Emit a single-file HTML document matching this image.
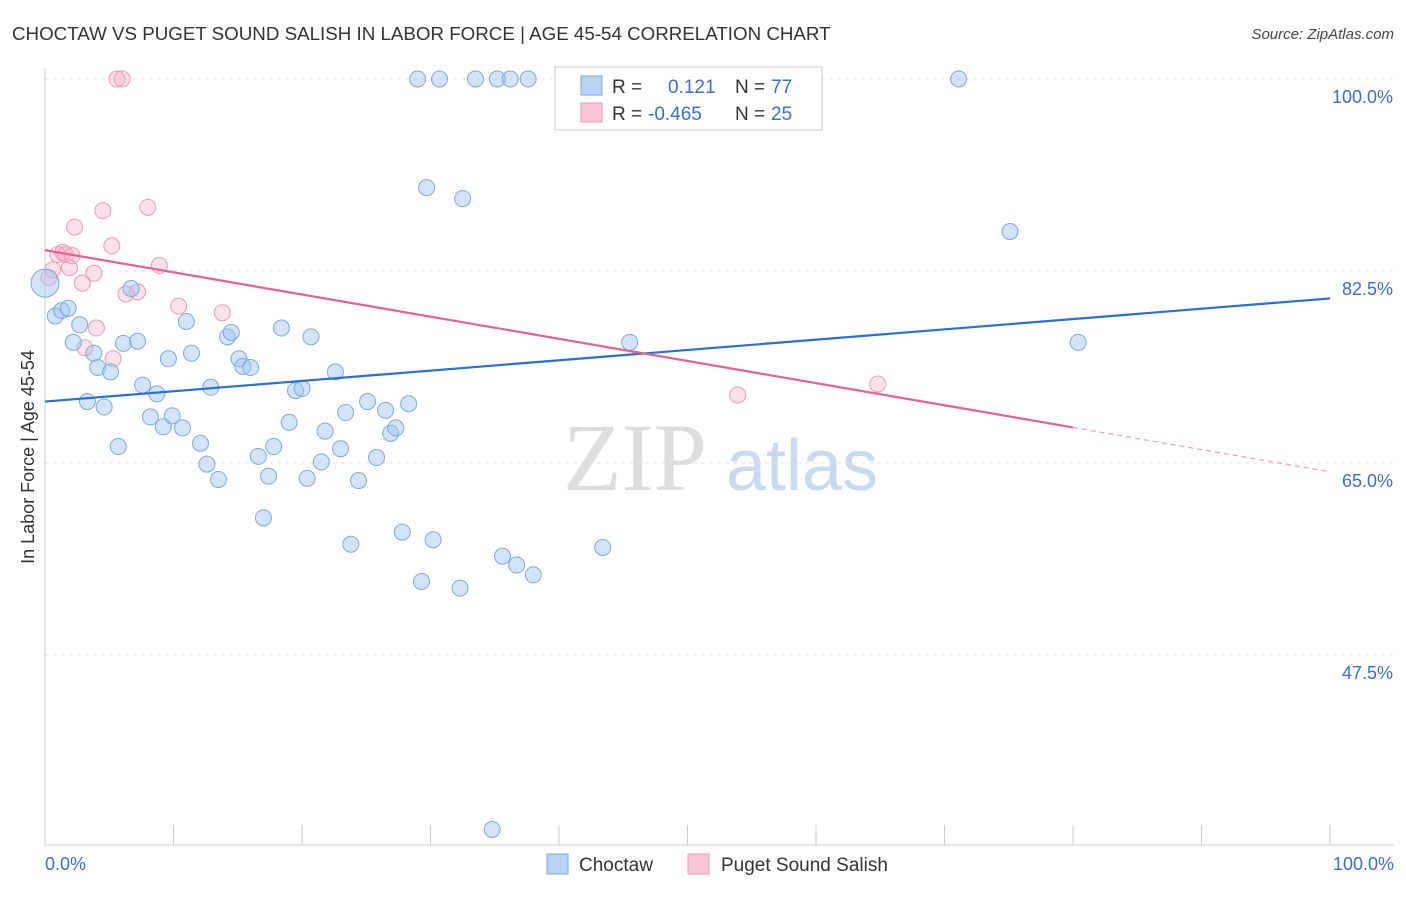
<!DOCTYPE html>
<html><head><meta charset="utf-8">
<style>
body{margin:0;background:#fff;font-family:"Liberation Sans",sans-serif;}
svg text{font-family:"Liberation Sans",sans-serif;}
</style></head>
<body>
<svg id="chart" width="1406" height="892" xmlns="http://www.w3.org/2000/svg">
<text x="12" y="40" font-size="18.75" fill="#333">CHOCTAW VS PUGET SOUND SALISH IN LABOR FORCE | AGE 45-54 CORRELATION CHART</text>
<text x="1394" y="39" font-size="15" fill="#444" text-anchor="end" font-style="italic">Source: ZipAtlas.com</text>
<g>
<text x="635" y="490" font-size="96" fill="#ddd" text-anchor="middle" style="font-family:'Liberation Serif',serif">ZIP</text>
<text x="802" y="490" font-size="72" fill="#c8daf2" text-anchor="middle">atlas</text>
</g>
<g id="grid"></g>
<g id="axes"></g>
<g id="marks"></g>
<g>
<rect x="555" y="67" width="267" height="63" fill="#fff" stroke="#ccc"/>
<rect x="581" y="76" width="21" height="19" fill="#b8d3f4" stroke="#7aaae0"/>
<rect x="581" y="103" width="21" height="19" fill="#f8c6d6" stroke="#ec9ab5"/>
<text x="612" y="93" font-size="19" fill="#333">R =</text>
<text x="668" y="93" font-size="19" fill="#3a6fc9">0.121</text>
<text x="735" y="93" font-size="19" fill="#333">N =</text>
<text x="771" y="93" font-size="19" fill="#3a6fc9">77</text>
<text x="612" y="120" font-size="19" fill="#333">R =</text>
<text x="648" y="120" font-size="19" fill="#3a6fc9">-0.465</text>
<text x="735" y="120" font-size="19" fill="#333">N =</text>
<text x="771" y="120" font-size="19" fill="#3a6fc9">25</text>
</g>
<g>
<rect x="547" y="854" width="21" height="20" fill="#b8d3f4" stroke="#7aaae0"/>
<text x="579" y="871" font-size="19" fill="#333">Choctaw</text>
<rect x="688" y="854" width="21" height="20" fill="#f8c6d6" stroke="#ec9ab5"/>
<text x="721" y="871" font-size="19" fill="#333">Puget Sound Salish</text>
</g>
<text transform="translate(34,457) rotate(-90)" font-size="18" fill="#333" text-anchor="middle">In Labor Force | Age 45-54</text>
</svg>
<script>
const yTicks=[100,82.5,65,47.5];
const yTickLabels=["100.0%","82.5%","65.0%","47.5%"];
const xTickLabels=["0.0%","100.0%"];
const blueX=[0,0.8,1.3,1.8,2.2,2.7,3.3,3.8,4.1,4.6,5.1,5.7,6.1,6.7,7.2,7.6,8.2,8.7,9.2,9.6,9.9,10.7,11.0,11.4,12.1,12.6,12.9,13.5,14.2,14.5,15.1,15.4,16.0,16.6,17.0,17.4,17.8,18.4,19.0,19.5,20.0,20.4,20.7,21.5,21.8,22.6,23.0,23.4,23.8,24.4,25.1,25.8,26.5,26.9,27.3,27.8,28.3,29.0,29.3,29.7,30.2,30.7,32.3,32.5,33.5,34.8,35.2,35.6,36.2,36.7,37.6,38.0,43.4,45.5,71.1,75.1,80.4];
const blueY=[81.4,78.4,78.9,79.1,76.0,77.6,70.6,75.0,73.7,70.1,73.3,66.5,75.9,80.9,76.1,72.1,69.2,71.3,68.3,74.5,69.3,68.2,77.9,75.0,66.8,64.9,71.9,63.5,76.5,76.9,74.5,73.8,73.7,65.6,60.0,63.8,66.5,77.3,68.7,71.6,71.8,63.6,76.5,65.1,67.9,73.3,66.3,69.6,57.6,63.4,70.6,65.5,69.8,67.7,68.2,58.7,70.4,100,54.2,90.1,58.0,100,53.6,89.1,100,31.6,100,56.5,100,55.7,100,54.8,57.3,76.0,100,86.1,76.0];
const pinkX=[0.3,0.6,1.0,1.4,1.6,1.9,2.1,2.3,2.9,3.1,3.8,4.0,4.5,5.2,5.3,5.6,6.0,6.3,7.2,8.0,8.9,10.4,13.8,53.9,64.8];
const pinkY=[81.9,82.6,84.0,84.2,84.0,82.8,83.9,86.5,81.4,75.5,82.3,77.3,88.0,84.8,74.5,100,100,80.4,80.6,88.3,83.0,79.3,78.7,71.2,72.2];
const blueTrend=[70.6,80.0];
const pinkTrend=[84.4,64.2];
const pinkSolidEnd=80;
const NS="http://www.w3.org/2000/svg";
const X=v=>45+v*12.85;
const Y=v=>79+(100-v)*192/17.5;
function mk(tag,attrs,parent){const e=document.createElementNS(NS,tag);for(const k in attrs)e.setAttribute(k,attrs[k]);document.getElementById(parent).appendChild(e);return e;}
yTicks.forEach((t,i)=>{
 const l=mk('line',{x1:45,x2:1394,y1:Y(t),y2:Y(t),stroke:'#e2e2e2','stroke-dasharray':'4,4'},'grid');
 
 
 const tx=mk('text',{x:1393,y:Y(t)+24,'font-size':18,fill:'#3a6fc9','text-anchor':'end'},'grid');
 tx.textContent=yTickLabels[i];
 
 
});
const ax=mk('line',{x1:45,x2:1394,y1:845,y2:845,stroke:'#ccc'},'axes');


const ay=mk('line',{x1:45,x2:45,y1:68,y2:845,stroke:'#ccc'},'axes');


for(let i=0;i<=10;i++){
 const t=mk('line',{x1:X(i*10),x2:X(i*10),y1:825,y2:845,stroke:'#ccc'},'axes');
 
 
}
[[0,'start'],[100,'end']].forEach((p,i)=>{
 const tx=mk('text',{x:i?1394:45,y:870,'font-size':18,fill:'#3a6fc9','text-anchor':p[1]},'axes');
 tx.textContent=xTickLabels[i];
 
 
});
pinkX.forEach((x,i)=>{
 const c=mk('circle',{cx:X(x),cy:Y(pinkY[i]),r:8,fill:'rgba(244,180,200,0.4)',stroke:'#ec9ab5','stroke-width':1},'marks');
 
 
});
blueX.forEach((x,i)=>{
 const c=mk('circle',{cx:X(x),cy:Y(blueY[i]),r:i===0?14:8,fill:'rgba(160,196,240,0.45)',stroke:'#7aaae0','stroke-width':1},'marks');
 
 
});
const bt=mk('line',{x1:X(0),y1:Y(blueTrend[0]),x2:X(100),y2:Y(blueTrend[1]),stroke:'#2a6fd6','stroke-width':2.2},'marks');


const pAt=x=>pinkTrend[0]+(pinkTrend[1]-pinkTrend[0])*x/100;
const pt=mk('line',{x1:X(0),y1:Y(pinkTrend[0]),x2:X(pinkSolidEnd),y2:Y(pAt(pinkSolidEnd)),stroke:'#e8608e','stroke-width':2.2},'marks');


const pd=mk('line',{x1:X(pinkSolidEnd),y1:Y(pAt(pinkSolidEnd)),x2:X(100),y2:Y(pinkTrend[1]),stroke:'#e8a0b8','stroke-width':1.2,'stroke-dasharray':'5,4'},'marks');


</script>
</body></html>
